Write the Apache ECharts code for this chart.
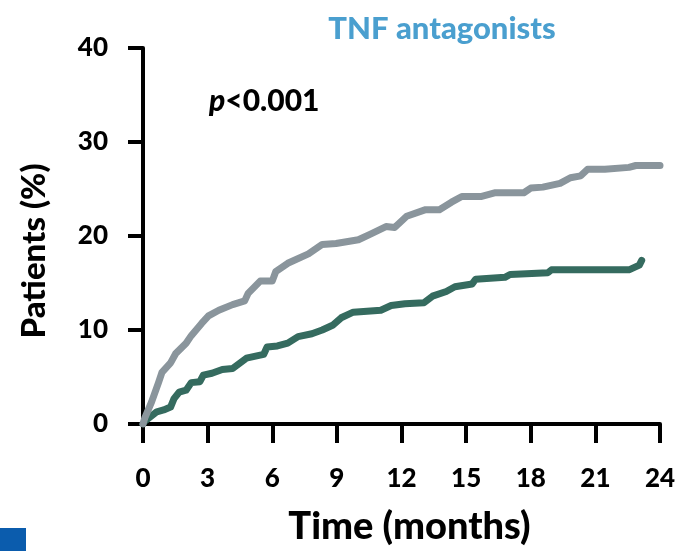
<!DOCTYPE html>
<html>
<head>
<meta charset="utf-8">
<script src="https://cdn.jsdelivr.net/npm/echarts@6/dist/echarts.min.js"></script>
<style>html,body{margin:0;padding:0;background:#fff;}#c{width:679px;height:551px;}</style>
</head>
<body>
<div id="c"></div>
<script>
var xTicks = [0, 3, 6, 9, 12, 15, 18, 21, 24];
var yTicks = [0, 10, 20, 30, 40];
var grayMonths = [0, 0.08, 0.4, 0.72, 0.88, 1.28, 1.52, 2.0, 2.24, 2.72, 3.04, 3.52, 4.16, 4.72, 4.88, 5.44, 6.0, 6.16, 6.72, 7.68, 8.32, 8.96, 10.0, 10.56, 11.28, 11.68, 12.24, 13.12, 13.76, 14.32, 14.8, 15.68, 16.32, 17.68, 18.0, 18.56, 19.36, 19.84, 20.32, 20.64, 21.44, 22.56, 22.88, 24.0];
var grayValues = [0, 0.62, 2.35, 4.4, 5.5, 6.5, 7.5, 8.6, 9.4, 10.7, 11.5, 12.1, 12.7, 13.1, 13.9, 15.2, 15.2, 16.2, 17.1, 18.1, 19.1, 19.2, 19.6, 20.2, 21.0, 20.9, 22.1, 22.8, 22.8, 23.6, 24.2, 24.2, 24.6, 24.6, 25.1, 25.2, 25.6, 26.2, 26.4, 27.1, 27.1, 27.3, 27.5, 27.5];
var greenMonths = [0, 0.08, 0.64, 0.96, 1.28, 1.44, 1.68, 2.0, 2.24, 2.64, 2.8, 3.2, 3.68, 4.16, 4.8, 5.6, 5.76, 6.24, 6.72, 7.2, 7.84, 8.32, 8.8, 9.2, 9.76, 11.04, 11.52, 12.16, 13.04, 13.44, 14.08, 14.48, 15.28, 15.44, 16.8, 17.04, 18.8, 18.96, 22.56, 23.04, 23.15];
var greenValues = [0, 0.3, 1.3, 1.5, 1.8, 2.7, 3.4, 3.6, 4.4, 4.5, 5.2, 5.4, 5.8, 5.9, 7.0, 7.4, 8.2, 8.3, 8.6, 9.3, 9.6, 10.0, 10.5, 11.3, 11.9, 12.1, 12.6, 12.8, 12.9, 13.6, 14.1, 14.6, 14.9, 15.4, 15.6, 15.9, 16.1, 16.4, 16.4, 16.9, 17.4];

function pairs(xs, ys) { return xs.map(function (x, i) { return [x, ys[i]]; }); }

var FONT = 'Lato';
var W = 900;
var chart = echarts.init(document.getElementById('c'), null, {renderer: 'canvas'});
chart.setOption({
  animation: false,
  backgroundColor: '#ffffff',
  grid: {left: 143, right: 19, top: 48, bottom: 118, containLabel: false},
  title: {
    text: 'TNF antagonists', left: 437, top: 8, textAlign: 'center',
    textStyle: {color: '#4a9fcf', fontFamily: FONT, fontWeight: W, fontSize: 31}
  },
  graphic: [
    {type: 'text', left: 209, top: 86, style: {
      text: '{i|p}{n|<0.001}',
      rich: {
        i: {fontFamily: FONT, fontWeight: W, fontStyle: 'italic', fontSize: 30, fill: '#000'},
        n: {fontFamily: FONT, fontWeight: W, fontSize: 30, fill: '#000'}
      }
    }},
    {type: 'rect', shape: {x: 0, y: 528, width: 26, height: 23}, style: {fill: '#0b5cad'}}
  ],
  xAxis: {
    type: 'value', min: 0, max: 24, interval: 3,
    name: 'Time (months)', nameLocation: 'middle', nameGap: 84,
    nameTextStyle: {fontFamily: FONT, fontWeight: W, fontSize: 38, color: '#000', padding: [0, 0, 0, 16]},
    axisLine: {show: true, onZero: false, lineStyle: {color: '#000', width: 4}},
    axisTick: {show: true, length: 19, lineStyle: {color: '#000', width: 4}},
    axisLabel: {fontFamily: FONT, fontWeight: W, fontSize: 26, color: '#000', margin: 42,
      formatter: function (v) { return xTicks.indexOf(v) >= 0 ? String(v) : ''; }},
    splitLine: {show: false}
  },
  yAxis: {
    type: 'value', min: 0, max: 40, interval: 10,
    name: 'Patients (%)', nameLocation: 'middle', nameGap: 92, nameRotate: 90,
    nameTextStyle: {fontFamily: FONT, fontWeight: W, fontSize: 33, color: '#000', padding: [0, 30, 0, 0]},
    axisLine: {show: true, onZero: false, lineStyle: {color: '#000', width: 4}},
    axisTick: {show: true, length: 15, lineStyle: {color: '#000', width: 4}},
    axisLabel: {fontFamily: FONT, fontWeight: W, fontSize: 26, color: '#000', margin: 35, padding: [7, 0, 0, 0],
      formatter: function (v) { return yTicks.indexOf(v) >= 0 ? String(v) : ''; }},
    splitLine: {show: false}
  },
  series: [
    {type: 'line', data: pairs(greenMonths, greenValues), showSymbol: false, symbol: 'none',
      lineStyle: {color: '#356b5f', width: 7, cap: 'round', join: 'round'}},
    {type: 'line', data: pairs(grayMonths, grayValues), showSymbol: false, symbol: 'none',
      lineStyle: {color: '#8a959c', width: 7, cap: 'round', join: 'round'}}
  ]
});
</script>
</body>
</html>
